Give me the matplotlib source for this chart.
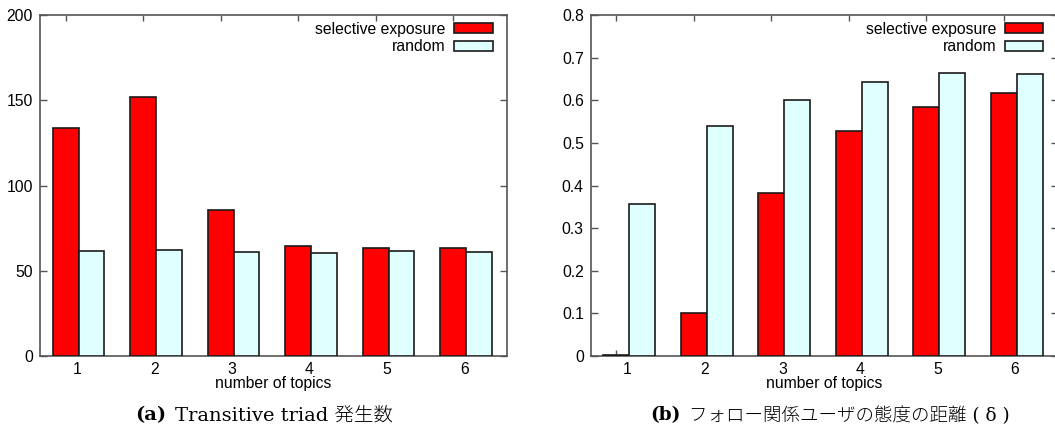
#!/usr/bin/env python3
"""
Selective exposure vs random: transitive triads and attitude distance by number of topics.
"""
import numpy as np
import matplotlib
matplotlib.use("Agg")
import matplotlib.pyplot as plt

# data
TOPICS = [1, 2, 3, 4, 5, 6]
SERIES = ["selective exposure", "random"]

triad_selective = [133.5, 152.0, 85.5, 64.5, 63.2, 63.2]
triad_random = [61.8, 62.2, 60.8, 60.4, 61.8, 61.2]

dist_selective = [0.003, 0.101, 0.383, 0.528, 0.584, 0.618]
dist_random = [0.356, 0.539, 0.600, 0.642, 0.663, 0.661]

YTICKS_A = [0, 50, 100, 150, 200]
YTICKS_B = [0, 0.1, 0.2, 0.3, 0.4, 0.5, 0.6, 0.7, 0.8]

CAPTION_A = ("(a)", "Transitive triad 発生数")
CAPTION_B = ("(b)", "フォロー関係ユーザの態度の距離 ( δ )")

RED = "#ff0000"
CYAN = "#e0ffff"
EDGE = "#1a1a1a"
SPINE = "#555555"
FS = 11.3

plt.rcParams["font.family"] = ["Liberation Sans", "DejaVu Sans"]

W, H = 1055, 430
fig = plt.figure(figsize=(W / 100, H / 100), dpi=100)

# axes rectangles in pixels (left, bottom-from-top, width, height)
ax_a = fig.add_axes([40 / W, (H - 356) / H, 467 / W, 341 / H])
ax_b = fig.add_axes([590.7 / W, (H - 356) / H, 467 / W, 341 / H])


def draw_panel(ax, sel, rnd, yticks):
    x = np.array(TOPICS, dtype=float)
    w = 0.333
    ax.bar(x - 0.31, sel, width=w, align="edge", color=RED,
           edgecolor=EDGE, linewidth=1.2, label=SERIES[0], zorder=3)
    ax.bar(x + 0.023, rnd, width=w, align="edge", color=CYAN,
           edgecolor=EDGE, linewidth=1.2, label=SERIES[1], zorder=3)

    ax.set_xlim(0.526, 6.551)
    ax.set_ylim(yticks[0], yticks[-1])

    ax.set_xticks(x)
    ax.set_xticklabels([str(t) for t in TOPICS], fontsize=FS)
    ax.tick_params(axis="x", which="major", length=0, pad=4.5)
    # gnuplot-style mirrored tics at the first bar of each cluster
    ax.set_xticks(x - 0.142, minor=True)
    ax.tick_params(axis="x", which="minor", direction="in", length=4,
                   bottom=True, top=True, color=SPINE, width=1)

    ax.set_yticks(yticks)
    ax.set_yticklabels([f"{v:g}" for v in yticks], fontsize=FS)
    ax.tick_params(axis="y", direction="in", length=5, left=True, right=True,
                   color=SPINE, width=1, pad=5)

    for s in ax.spines.values():
        s.set_color(SPINE)
        s.set_linewidth(1.2)

    ax.set_xlabel("number of topics", fontsize=FS, labelpad=-1)

    ax.legend(loc="upper right", bbox_to_anchor=(1 - 14.3 / 467, 1 - 7 / 341),
              frameon=False, markerfirst=False, fontsize=FS,
              handlelength=2.45, handleheight=0.6, handletextpad=0.55,
              borderpad=0, borderaxespad=0, labelspacing=0.15)


draw_panel(ax_a, triad_selective, triad_random, YTICKS_A)
draw_panel(ax_b, dist_selective, dist_random, YTICKS_B)


def caption(parts, xc, yc, size):
    # bold label + normal text, centred as one line
    cap_font = ["DejaVu Serif", "Noto Sans CJK JP"]
    r = fig.canvas.get_renderer()
    t1 = fig.text(0, 0, parts[0], fontsize=size, fontweight="bold",
                  family=cap_font, va="center")
    t2 = fig.text(0, 0, parts[1], fontsize=size, family=cap_font,
                  va="center", fontweight="light")
    w1 = t1.get_window_extent(r).width
    w2 = t2.get_window_extent(r).width
    gap = 8
    total = w1 + gap + w2
    x0 = xc - total / 2
    t1.set_position((x0 / W, 1 - yc / H))
    t2.set_position(((x0 + w1 + gap) / W, 1 - yc / H))


caption(CAPTION_A, 264, 415.5, 14.0)
caption(CAPTION_B, 830, 415.5, 13.3)

fig.savefig("out.png", dpi=100)
print("Saved out.png")
